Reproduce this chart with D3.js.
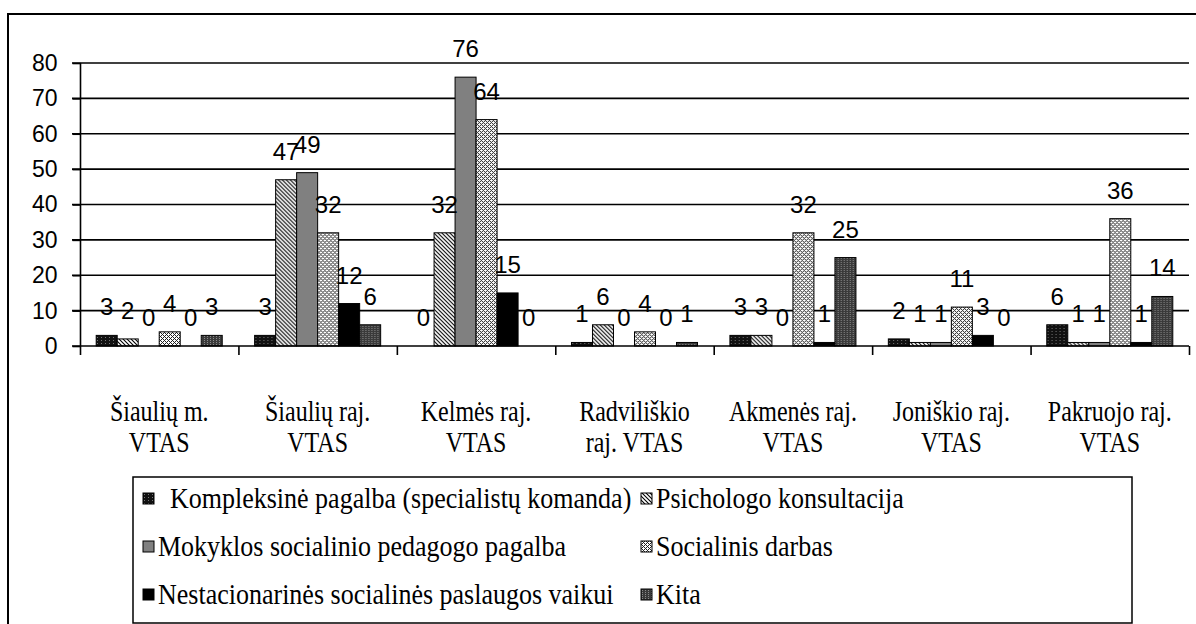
<!DOCTYPE html>
<html><head><meta charset="utf-8">
<script src="https://cdn.jsdelivr.net/npm/d3@7"></script>
<style>html,body{margin:0;padding:0;background:#fff;} svg{display:block;}</style>
</head><body>
<svg id="c" width="1196" height="624"></svg>
<script>
const categories = [["Šiaulių m.","VTAS"],["Šiaulių raj.","VTAS"],["Kelmės raj.","VTAS"],["Radviliškio","raj. VTAS"],["Akmenės raj.","VTAS"],["Joniškio raj.","VTAS"],["Pakruojo raj.","VTAS"]];
const seriesNames = ["Kompleksinė pagalba (specialistų komanda)","Psichologo konsultacija","Mokyklos socialinio pedagogo pagalba","Socialinis darbas","Nestacionarinės socialinės paslaugos vaikui","Kita"];
const kompleksine = [3,3,0,1,3,2,6];
const psichologo = [2,47,32,6,3,1,1];
const mokyklos = [0,49,76,0,0,1,1];
const socialinis = [4,32,64,4,32,11,36];
const nestacionarines = [0,12,15,0,1,3,1];
const kita = [3,6,0,1,25,0,14];
const yTicks = [0,10,20,30,40,50,60,70,80];

const seriesValues = [kompleksine, psichologo, mokyklos, socialinis, nestacionarines, kita];
const fills = ["url(#pKomp)","url(#pPsy)","#808080","url(#pSoc)","#000","url(#pKita)"];

const svg = d3.select("#c");
const defs = svg.append("defs");
let p = defs.append("pattern").attr("id","pKomp").attr("width",4).attr("height",3).attr("patternUnits","userSpaceOnUse");
p.append("rect").attr("width",4).attr("height",3).attr("fill","#111");
p.append("rect").attr("x",1).attr("y",1).attr("width",1).attr("height",1).attr("fill","#777");
p = defs.append("pattern").attr("id","pPsy").attr("width",4).attr("height",4).attr("patternUnits","userSpaceOnUse");
p.append("rect").attr("width",4).attr("height",4).attr("fill","#fff");
p.append("path").attr("d","M-1,-1 L5,5 M-1,3 L1,5 M3,-1 L5,1").attr("stroke","#000").attr("stroke-width",1.1);
p = defs.append("pattern").attr("id","pSoc").attr("width",4).attr("height",4).attr("patternUnits","userSpaceOnUse");
p.append("rect").attr("width",4).attr("height",4).attr("fill","#fff");
[[0,0],[1,1],[3,1],[2,2],[1,3],[3,3]].forEach(function(q){
  p.append("rect").attr("x",q[0]).attr("y",q[1]).attr("width",1).attr("height",1).attr("fill","#222");
});
p = defs.append("pattern").attr("id","pKita").attr("width",3).attr("height",2).attr("patternUnits","userSpaceOnUse");
p.append("rect").attr("width",3).attr("height",2).attr("fill","#3a3a3a");
p.append("rect").attr("x",1).attr("width",1).attr("height",1).attr("fill","#8a8a8a");

svg.append("rect").attr("x",8).attr("y",14).attr("width",1200).attr("height",620)
  .attr("fill","none").attr("stroke","#000").attr("stroke-width",2);

const x0 = d3.scaleBand().domain(d3.range(categories.length)).range([80,1189]).paddingInner(0).paddingOuter(0);
const x1 = d3.scaleBand().domain(d3.range(seriesNames.length)).range([16.2, x0.bandwidth()-16.2]);
const y = d3.scaleLinear().domain([0,80]).range([346,63]);

svg.append("g").selectAll("line").data(yTicks.filter(d=>d>0)).join("line")
  .attr("x1",72).attr("x2",1189).attr("y1",d=>y(d)).attr("y2",d=>y(d))
  .attr("stroke","#000").attr("stroke-width",1.6);

const yAxis = svg.append("g").attr("transform","translate(80.5,0)")
  .call(d3.axisLeft(y).tickValues(yTicks).tickSize(8).tickPadding(15));
yAxis.select(".domain").attr("stroke-width",1.6).attr("d","M0,"+y(80)+"V"+y(0));
yAxis.selectAll(".tick line").attr("stroke-width",1.6);
yAxis.selectAll("text").attr("font-family","Liberation Sans, Arial, sans-serif").attr("font-size",23).attr("fill","#000");

const groups = svg.append("g").selectAll("g").data(categories).join("g")
  .attr("transform",(d,i)=>"translate("+x0(i)+",0)");
groups.selectAll("rect").data((d,i)=>seriesValues.map((s,k)=>({k:k,v:s[i]}))).join("rect")
  .attr("x",d=>x1(d.k)).attr("width",x1.bandwidth())
  .attr("y",d=>y(d.v)).attr("height",d=>y(0)-y(d.v))
  .attr("fill",d=>fills[d.k]).attr("stroke","#000").attr("stroke-width",d=>d.v>0?1:0);

const xAxis = svg.append("g").attr("transform","translate(0,"+y(0)+")");
xAxis.append("line").attr("x1",72).attr("x2",1189).attr("stroke","#000").attr("stroke-width",1.6);
xAxis.selectAll(".t").data(d3.range(categories.length+1)).join("line")
  .attr("x1",d=>80.5+d*x0.bandwidth()).attr("x2",d=>80.5+d*x0.bandwidth())
  .attr("y1",0).attr("y2",9).attr("stroke","#000").attr("stroke-width",1.6);

groups.selectAll("text.v").data((d,i)=>seriesValues.map((s,k)=>({k:k,v:s[i]}))).join("text")
  .attr("class","v")
  .attr("x",d=>x1(d.k)+x1.bandwidth()/2).attr("y",d=>y(d.v)-20)
  .attr("text-anchor","middle").attr("font-family","Liberation Sans, Arial, sans-serif")
  .attr("font-size",24).text(d=>d.v);

const cg = svg.append("g").selectAll("g").data(categories).join("g");
cg.each(function(d,i){
  const g = d3.select(this);
  const cx = x0(i)+x0.bandwidth()/2;
  [[d[0],421],[d[1],452]].forEach(function(l){
    g.append("text").attr("transform","translate("+cx+","+l[1]+") scale(1,1.2)")
      .attr("text-anchor","middle").attr("font-family","Liberation Serif, Times New Roman, serif")
      .attr("font-size",24).text(l[0]);
  });
});

svg.append("rect").attr("x",133).attr("y",477).attr("width",999).attr("height",146)
  .attr("fill","none").attr("stroke","#000").attr("stroke-width",1.5);
const legendPos = [[143,508],[641,508],[143,556],[641,556],[143,604],[641,604]];
const lg = svg.append("g").selectAll("g").data(seriesNames).join("g")
  .attr("transform",(d,i)=>"translate("+legendPos[i][0]+","+legendPos[i][1]+")");
lg.append("rect").attr("x",0).attr("y",-15).attr("width",11).attr("height",11)
  .attr("fill",(d,i)=>fills[i]).attr("stroke","#000").attr("stroke-width",1);
lg.append("text").attr("x",(d,i)=>i===0?27:15).attr("y",0)
  .attr("transform","scale(1,1.1)")
  .attr("font-family","Liberation Serif, Times New Roman, serif").attr("font-size",26)
  .text(d=>d);
</script>
</body></html>
